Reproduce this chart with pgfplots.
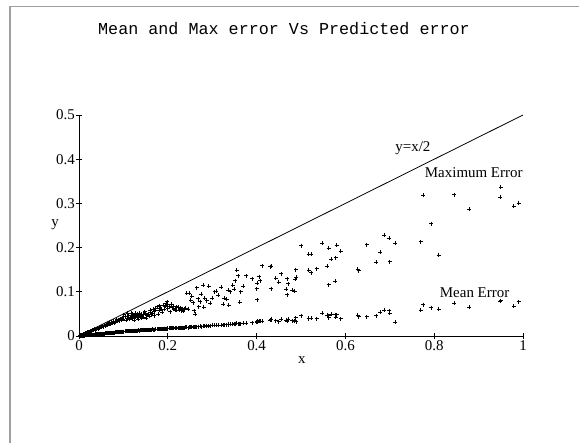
\documentclass[border=0pt]{standalone}
\usepackage{pgfplots}
\pgfplotsset{compat=1.18}
\usepackage{pgfplotstable}
\usepackage{fontspec}
\setmainfont{Liberation Serif}
\newfontfamily\monofont{Liberation Mono}

\pgfplotstableread{
x ymax ymean
0.003 0.0012 0.0003
0.005 0.002 0.0005
0.007 0.003 0.0006
0.009 0.0035 0.0008
0.011 0.0045 0.001
0.013 0.005 0.0011
0.015 0.006 0.0013
0.017 0.0065 0.0015
0.019 0.008 0.0017
0.021 0.0085 0.0019
0.023 0.009 0.002
0.025 0.0105 0.0022
0.027 0.011 0.0025
0.029 0.012 0.0027
0.031 0.0125 0.003
0.033 0.013 0.0031
0.035 0.015 0.0033
0.037 0.0145 0.0035
0.039 0.016 0.0037
0.041 0.017 0.0039
0.043 0.016 0.0041
0.045 0.019 0.0043
0.047 0.018 0.0045
0.049 0.021 0.0047
0.051 0.020 0.005
0.053 0.022 0.0051
0.055 0.021 0.0053
0.057 0.024 0.0055
0.059 0.023 0.0057
0.061 0.025 0.006
0.063 0.027 0.0061
0.065 0.025 0.0063
0.067 0.028 0.0065
0.069 0.030 0.0067
0.071 0.027 0.007
0.073 0.031 0.0071
0.075 0.029 0.0073
0.077 0.033 0.0075
0.079 0.030 0.0077
0.081 0.034 0.008
0.083 0.031 0.0081
0.085 0.036 0.0083
0.087 0.033 0.0086
0.089 0.037 0.0088
0.091 0.035 0.009
0.093 0.039 0.0092
0.095 0.036 0.0094
0.097 0.041 0.0096
0.099 0.038 0.0098
0.101 0.048 0.0100
0.104 0.044 0.0103
0.108 0.040 0.0106
0.112 0.046 0.0108
0.115 0.042 0.011
0.118 0.047 0.0112
0.120 0.039 0.0113
0.122 0.045 0.0115
0.125 0.048 0.0117
0.128 0.043 0.0119
0.130 0.046 0.012
0.132 0.041 0.0121
0.135 0.048 0.0123
0.138 0.044 0.0125
0.140 0.050 0.0127
0.143 0.046 0.0128
0.146 0.043 0.013
0.150 0.052 0.0133
0.153 0.047 0.0135
0.156 0.050 0.0137
0.160 0.054 0.014
0.163 0.048 0.0142
0.167 0.060 0.0145
0.170 0.055 0.0147
0.173 0.062 0.015
0.176 0.066 0.0152
0.180 0.058 0.0155
0.183 0.063 0.0157
0.186 0.060 0.016
0.190 0.070 0.0162
0.193 0.066 0.0165
0.196 0.073 0.0167
0.198 0.078 0.0168
0.200 0.062 0.017
0.203 0.068 0.0172
0.205 0.055 0.0174
0.210 0.064 0.0176
0.213 0.060 0.0178
0.217 0.058 0.018
0.220 0.059 0.0182
0.223 0.065 0.0184
0.227 0.061 0.0186
0.230 0.057 0.0188
0.233 0.062 0.019
0.237 0.060 0.0192
0.243 0.097 0.0195
0.248 0.097 0.0198
0.252 0.081 0.02
0.257 0.075 0.0203
0.259 0.057 0.0205
0.262 0.050 0.0207
0.265 0.109 0.021
0.268 0.084 0.0212
0.270 0.066 0.0214
0.273 0.078 0.0216
0.280 0.115 0.022
0.281 0.065 0.0222
0.283 0.085 0.0224
0.296 0.074 0.0232
0.306 0.100 0.024
0.309 0.102 0.0242
0.325 0.072 0.0252
0.327 0.085 0.0254
0.333 0.083 0.0258
0.336 0.103 0.026
0.337 0.070 0.0262
0.341 0.100 0.0265
0.346 0.115 0.027
0.349 0.106 0.0272
0.355 0.149 0.0285
0.359 0.136 0.0275
0.362 0.076 0.028
0.364 0.100 0.0278
0.377 0.136 0.0288
0.400 0.107 0.031
0.402 0.119 0.034
0.402 0.082 0.032
0.406 0.134 0.035
0.408 0.125 0.033
0.412 0.159 0.034
0.430 0.157 0.036
0.433 0.158 0.038
0.433 0.107 0.037
0.443 0.131 0.035
0.450 0.122 0.032
0.455 0.141 0.038
0.466 0.106 0.036
0.469 0.130 0.035
0.469 0.093 0.034
0.471 0.118 0.038
0.480 0.104 0.035
0.486 0.101 0.034
0.487 0.129 0.036
0.489 0.133 0.032
0.488 0.150 0.041
0.501 0.204 0.046
0.517 0.185 0.040
0.523 0.185 0.040
0.517 0.149 0.039
0.523 0.143 0.040
0.535 0.152 0.039
0.548 0.210 0.052
0.559 0.158 0.047
0.562 0.198 0.041
0.562 0.116 0.046
0.568 0.174 0.050
0.577 0.124 0.048
0.578 0.177 0.043
0.580 0.205 0.048
0.589 0.192 0.039
0.628 0.151 0.047
0.630 0.148 0.044
0.648 0.207 0.044
0.670 0.167 0.046
0.679 0.189 0.054
0.688 0.228 0.059
0.699 0.221 0.057
0.700 0.168 0.051
0.712 0.210 0.031
0.770 0.213 0.058
0.775 0.319 0.071
0.793 0.254 0.064
0.810 0.183 0.060
0.845 0.320 0.074
0.879 0.287 0.065
0.949 0.314 0.079
0.950 0.336 0.080
0.979 0.294 0.067
0.990 0.300 0.078
0.106 0.036 0.0108
0.110 0.051 0.0104
0.114 0.038 0.0112
0.117 0.052 0.0109
0.121 0.050 0.0118
0.124 0.036 0.0110
0.127 0.052 0.0122
0.131 0.049 0.0119
0.134 0.038 0.0126
0.137 0.051 0.0122
0.141 0.040 0.0131
0.145 0.049 0.0126
0.148 0.055 0.0136
0.152 0.040 0.0131
0.158 0.045 0.0140
0.161 0.058 0.0138
0.165 0.052 0.0148
0.169 0.046 0.0143
0.172 0.058 0.0152
0.178 0.050 0.0150
0.182 0.069 0.0160
0.188 0.054 0.0158
0.192 0.061 0.0168
0.195 0.068 0.0163
0.199 0.071 0.0172
0.207 0.072 0.0170
0.212 0.068 0.0182
0.216 0.063 0.0176
0.219 0.066 0.0185
0.225 0.058 0.0181
0.229 0.064 0.0190
0.235 0.056 0.0186
0.240 0.063 0.0196
0.246 0.060 0.0192
0.254 0.090 0.0207
0.275 0.095 0.0211
0.288 0.080 0.0232
0.292 0.112 0.0228
0.300 0.085 0.0240
0.314 0.092 0.0246
0.320 0.110 0.0250
0.352 0.125 0.0280
0.370 0.112 0.0285
0.390 0.130 0.0300
}\errdata

\begin{document}
\begin{tikzpicture}
\useasboundingbox (-79bp,-107bp) rectangle (500bp,336bp);
\draw[gray!75, line width=1.2bp] (-69bp,-107bp) -- (-69bp,329.5bp) -- (500bp,329.5bp);
\node[font=\monofont\fontsize{16.8}{20}\selectfont] at (205bp,307bp) {Mean and Max error Vs Predicted error};
\begin{axis}[
  at={(0bp,0bp)}, anchor=south west,
  scale only axis, width=444bp, height=221bp,
  xmin=0, xmax=1, ymin=0, ymax=0.5,
  axis x line=bottom, axis y line=left,
  axis line style={-, line width=0.9bp, black},
  xtick={0,0.2,0.4,0.6,0.8,1}, xticklabels={0,0.2,0.4,0.6,0.8,1},
  ytick={0,0.1,0.2,0.3,0.4,0.5}, yticklabels={0,0.1,0.2,0.3,0.4,0.5},
  tick align=center, major tick length=6bp,
  tick style={black, line width=0.7bp},
  ticklabel style={font=\fontsize{15}{18}\selectfont},
  xticklabel style={inner sep=1bp},
  yticklabel style={inner sep=1bp},
  clip=false,
]
\addplot[black, line width=0.8bp, no marks] coordinates {(0,0) (1,0.5)};
\addplot[only marks, mark=+, mark size=2bp, mark options={line width=0.8bp, black}] table[x=x, y=ymax] {\errdata};
\addplot[only marks, mark=+, mark size=2bp, mark options={line width=0.8bp, black}] table[x=x, y=ymean] {\errdata};
\node[font=\fontsize{15}{18}\selectfont] at (axis cs:0.752,0.425) {y=x/2};
\node[font=\fontsize{15}{18}\selectfont] at (axis cs:0.889,0.369) {Maximum Error};
\node[font=\fontsize{15}{18}\selectfont] at (axis cs:0.891,0.098) {Mean Error};
\node[font=\fontsize{15}{18}\selectfont] at (axis cs:0.502,-0.0536) {x};
\node[font=\fontsize{15}{18}\selectfont] at (axis cs:-0.054,0.251) {y};
\end{axis}
\end{tikzpicture}
\end{document}
